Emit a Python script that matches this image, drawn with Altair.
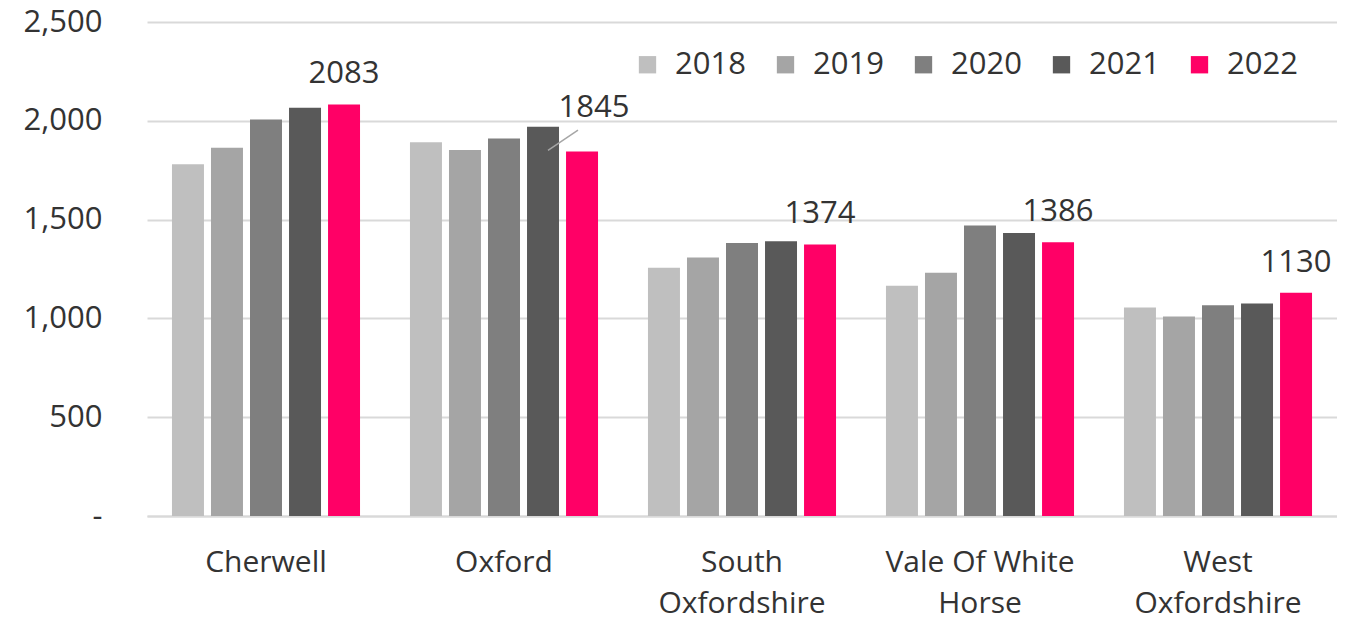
import altair as alt
import pandas as pd

districts = ["Cherwell", "Oxford", "South|Oxfordshire", "Vale Of White|Horse", "West|Oxfordshire"]
years = ["2018", "2019", "2020", "2021", "2022"]
values = {
    "2018": [1780, 1892, 1256, 1165, 1055],
    "2019": [1864, 1852, 1308, 1231, 1010],
    "2020": [2007, 1911, 1381, 1470, 1066],
    "2021": [2066, 1970, 1390, 1432, 1076],
    "2022": [2083, 1845, 1374, 1386, 1130],
}
colors = ["#bfbfbf", "#a5a5a5", "#7f7f7f", "#595959", "#ff0066"]

rows = []
for y in years:
    for d, v in zip(districts, values[y]):
        rows.append({"district": d, "year": y, "value": v})
df = pd.DataFrame(rows)

FONT = "Open Sans"
TXT = "#333333"
FS = 31

x = alt.X("district:N", sort=districts, title=None,
          scale=alt.Scale(paddingInner=0.0, paddingOuter=0.0),
          axis=alt.Axis(labelAngle=0, ticks=False, domainColor="#d9d9d9", domainWidth=2,
                        labelExpr="split(datum.label, '|')", labelFontSize=30, labelLimit=0,
                        labelPadding=31, labelLineHeight=41, labelColor=TXT, labelFont=FONT))
xo = alt.XOffset("year:N", sort=years,
                 scale=alt.Scale(paddingInner=0.18, paddingOuter=0.64))
y = alt.Y("value:Q", title=None,
          scale=alt.Scale(domain=[0, 2500], nice=False),
          axis=alt.Axis(values=[0, 500, 1000, 1500, 2000, 2500],
                        labelExpr="datum.value == 0 ? '-' : format(datum.value, ',')",
                        domain=False, ticks=False, gridColor="#d9d9d9", gridWidth=2,
                        labelFontSize=FS, labelPadding=45, labelColor=TXT, labelFont=FONT))

bars = alt.Chart(df).mark_bar().encode(
    x=x, xOffset=xo, y=y,
    color=alt.Color("year:N", sort=years, title=None,
                    scale=alt.Scale(domain=years, range=colors),
                    legend=alt.Legend(orient="none", legendX=485, legendY=27, direction="horizontal",
                                      symbolType="square", symbolSize=300, symbolStrokeWidth=0,
                                      labelFontSize=FS, labelFont=FONT, labelColor=TXT,
                                      columnPadding=24, labelOffset=12, columns=5)),
)

lab = df[df["year"] == "2022"]
labels_main = alt.Chart(lab[lab["district"] != "Oxford"]).mark_text(
    baseline="alphabetic", dy=-21, fontSize=FS, font=FONT, color=TXT
).encode(x=alt.X("district:N", sort=districts), xOffset=xo, y=y, text="value:Q")

labels_ox = alt.Chart(lab[lab["district"] == "Oxford"]).mark_text(
    baseline="alphabetic", dy=-34, dx=12, fontSize=FS, font=FONT, color=TXT
).encode(x=alt.X("district:N", sort=districts), xOffset=xo, y=y, text="value:Q")

leader = alt.Chart(lab[lab["district"] == "Oxford"]).transform_calculate(
    y1="datum.value + 5", y2="datum.value + 108"
).mark_rule(color="#a6a6a6", strokeWidth=1.5, xOffset=44, x2Offset=74).encode(
    x=alt.X("district:N", sort=districts, bandPosition=0.5),
    x2=alt.X2("district", bandPosition=0.5),
    y=alt.Y("y1:Q"), y2="y2:Q")

chart = alt.layer(bars, leader, labels_main, labels_ox).properties(
    width=1190, height=494,
    autosize=alt.AutoSizeParams(type="none"),
    padding={"left": 139, "top": 14, "right": 0, "bottom": 108},
).configure_view(stroke=None)

chart.save("out.html", embed_options={"renderer": "svg", "actions": False})
